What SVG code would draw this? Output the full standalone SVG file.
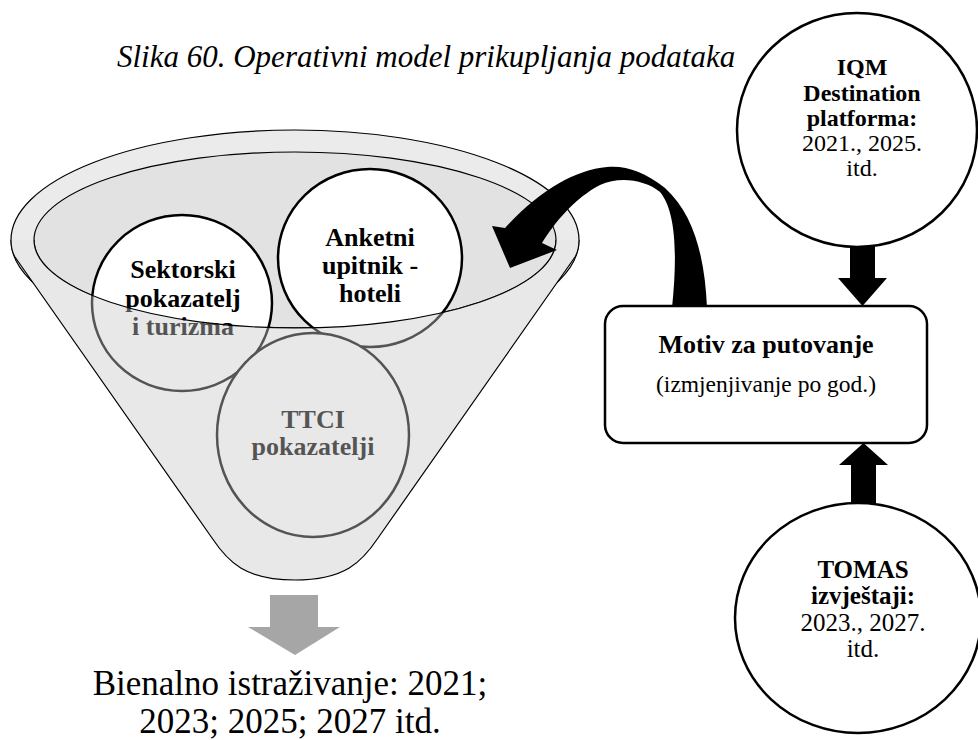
<svg xmlns="http://www.w3.org/2000/svg" width="978" height="740" viewBox="0 0 978 740">
<defs>
<style>
text{font-family:"Liberation Serif","Times New Roman",serif;fill:#000}
.b{font-weight:bold}
.c{text-anchor:middle}
.circ{fill:#fff;stroke:#000;stroke-width:2.5}
.thin{fill:none;stroke:#000;stroke-width:1.2}
.blk{fill:#000;stroke:none}
</style>
<path id="front" d="M 11,240 L 34,240 A 261 88 0 0 0 556,240 L 579,240 C 579,248 578,252 575,257 L 378,538 C 362,562 345,580 295,580 C 245,580 228,562 212,538 L 15,257 C 12,252 11,248 11,240 Z"/>
</defs>
<rect width="978" height="740" fill="#fff"/>
<text id="title" x="117" y="67" font-size="31" font-style="italic">Slika 60. Operativni model prikupljanja podataka</text>

<g id="funnel-back">
<ellipse cx="295" cy="240" rx="284" ry="110" fill="#ebebeb" stroke="#000" stroke-width="1.2"/>
<ellipse cx="295" cy="240" rx="261" ry="88" fill="#e2e2e2" stroke="#000" stroke-width="1.2"/>
<use href="#front" fill="#fff"/>
</g>

<g id="sektorski">
<ellipse class="circ" cx="182" cy="303" rx="90" ry="88"/>
<text class="b c" x="183" y="278" font-size="26">Sektorski</text>
<text class="b c" x="183" y="307" font-size="26">pokazatelj</text>
<text class="b c" x="183" y="335" font-size="26">i turizma</text>
</g>
<g id="anketni">
<ellipse class="circ" cx="370" cy="258" rx="92" ry="89"/>
<text class="b c" x="370" y="246" font-size="26">Anketni</text>
<text class="b c" x="370" y="274" font-size="26">upitnik -</text>
<text class="b c" x="370" y="302" font-size="26">hoteli</text>
</g>
<g id="ttci">
<ellipse class="circ" cx="313" cy="435" rx="96" ry="102"/>
<text class="b c" x="313" y="428" font-size="26">TTCI</text>
<text class="b c" x="313" y="455" font-size="26">pokazatelji</text>
</g>

<g id="funnel-front">
<use href="#front" fill="#c8c8c8" fill-opacity="0.42"/>
<path class="thin" d="M 34,240 A 261 88 0 0 0 556,240"/>
<path class="thin" d="M 579,240 C 579,248 578,252 575,257 L 378,538 C 362,562 345,580 295,580 C 245,580 228,562 212,538 L 15,257 C 12,252 11,248 11,240"/>
</g>

<g id="connectors">
<path class="blk" d="M 707,308 C 705,260 695,215 665,188 C 645,172 625,165 607,167 C 575,170 540,190 505,228 L 492,226 L 510,268 L 557,250 L 542,243 C 555,222 575,198 600,185 C 620,176 645,180 660,192 C 675,210 678,250 672,308 Z"/>
<path class="blk" d="M 850,235 L 875,235 L 875,278 L 887,278 L 862.5,306 L 838,278 L 850,278 Z"/>
<path class="blk" d="M 851,515 L 876,515 L 876,465 L 888,465 L 863.5,443 L 839,465 L 851,465 Z"/>
<path d="M 270,595 L 318,595 L 318,627 L 340,627 L 295,655 L 248,627 L 270,627 Z" fill="#a6a6a6"/>
</g>

<g id="motiv">
<rect x="605" y="306" width="322" height="137" rx="18" fill="#fff" stroke="#000" stroke-width="2.5"/>
<text class="b c" x="766" y="353" font-size="26">Motiv za putovanje</text>
<text class="c" x="766" y="392" font-size="23.5">(izmjenjivanje po god.)</text>
</g>

<g id="iqm">
<ellipse class="circ" cx="857" cy="130" rx="120" ry="117"/>
<text class="b c" x="862" y="75" font-size="24">IQM</text>
<text class="b c" x="862" y="101" font-size="24">Destination</text>
<text class="b c" x="862" y="126" font-size="24">platforma:</text>
<text class="c" x="862" y="151" font-size="24">2021., 2025.</text>
<text class="c" x="862" y="176" font-size="24">itd.</text>
</g>

<g id="tomas">
<ellipse class="circ" cx="858" cy="618" rx="123" ry="115"/>
<text class="b c" x="863" y="578" font-size="25">TOMAS</text>
<text class="b c" x="863" y="604" font-size="25">izvještaji:</text>
<text class="c" x="863" y="631" font-size="25">2023., 2027.</text>
<text class="c" x="863" y="657" font-size="25">itd.</text>
</g>

<g id="result">
<text class="c" x="290" y="695" font-size="35">Bienalno istraživanje: 2021;</text>
<text class="c" x="290" y="733" font-size="35">2023; 2025; 2027 itd.</text>
</g>
</svg>
